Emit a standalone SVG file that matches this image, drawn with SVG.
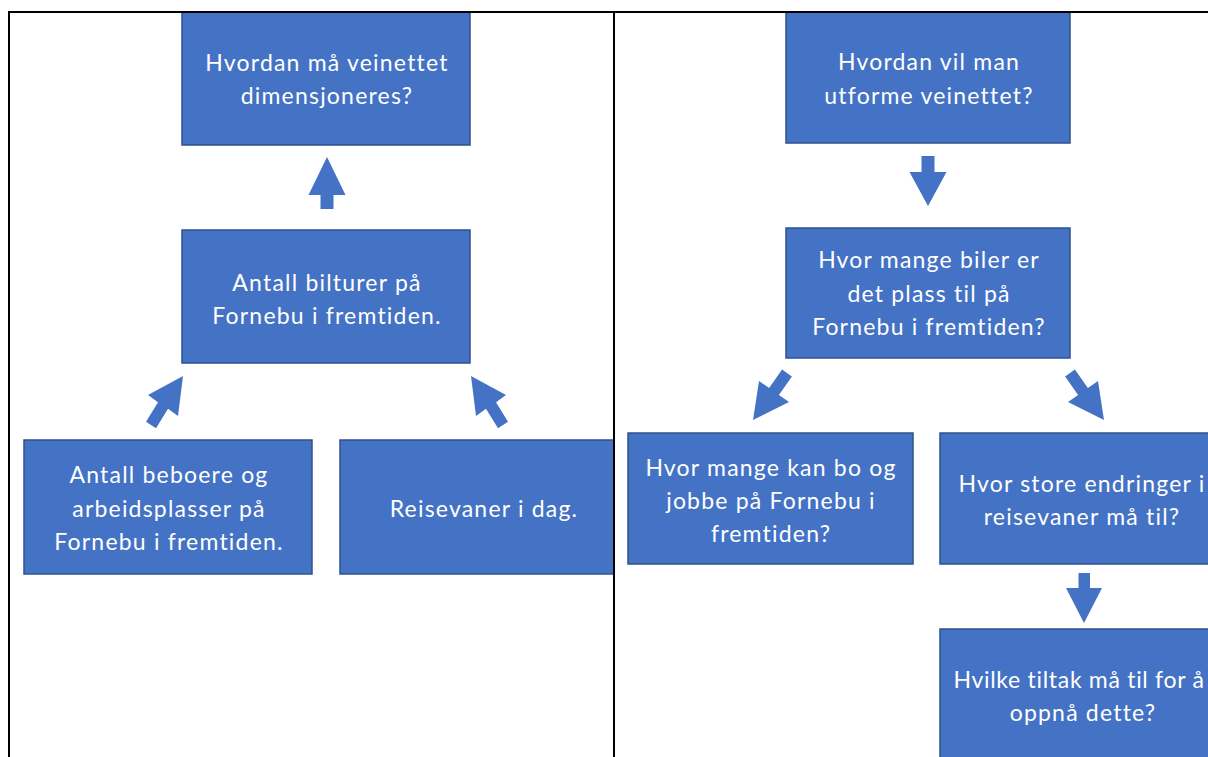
<svg xmlns="http://www.w3.org/2000/svg" width="1208" height="757" viewBox="0 0 1208 757">
<style>
.box{fill:#4472C4;stroke:#2F528F;stroke-width:1.5}
.arr{fill:#4472C4;stroke:none}
.t{font-family:Lato,"Liberation Sans",sans-serif;font-size:23px;fill:#ffffff;text-anchor:middle;letter-spacing:1.2px}
.grid{stroke:#000000;stroke-width:2;fill:none}
</style>
<defs>
<clipPath id="cl"><rect x="10" y="12" width="603" height="745"/></clipPath>
<clipPath id="cr"><rect x="615" y="12" width="593" height="745"/></clipPath>
</defs>
<rect width="1208" height="757" fill="#ffffff"/>
<g clip-path="url(#cl)">
<g id="n1"><rect class="box" x="182" y="10" width="288" height="135"/><text class="t" x="327" y="71">Hvordan må veinettet</text><text class="t" x="327" y="104">dimensjoneres?</text></g>
<g id="n2"><rect class="box" x="182" y="230" width="288" height="133"/><text class="t" x="327" y="291">Antall bilturer på</text><text class="t" x="327" y="324">Fornebu i fremtiden.</text></g>
<g id="n3"><rect class="box" x="24" y="440" width="288" height="134"/><text class="t" x="169" y="483">Antall beboere og</text><text class="t" x="169" y="516.5">arbeidsplasser på</text><text class="t" x="169" y="550">Fornebu i fremtiden.</text></g>
<g id="n4"><rect class="box" x="340" y="440" width="286" height="134"/><text class="t" x="484" y="517">Reisevaner i dag.</text></g>
</g>
<g clip-path="url(#cr)">
<g id="n5"><rect class="box" x="786" y="10" width="284" height="133"/><text class="t" x="929" y="70">Hvordan vil man</text><text class="t" x="929" y="103.5">utforme veinettet?</text></g>
<g id="n6"><rect class="box" x="786" y="228" width="284" height="130"/><text class="t" x="929" y="268">Hvor mange biler er</text><text class="t" x="929" y="301.5">det plass til på</text><text class="t" x="929" y="335">Fornebu i fremtiden?</text></g>
<g id="n7"><rect class="box" x="628" y="433" width="285" height="131"/><text class="t" x="771" y="476">Hvor mange kan bo og</text><text class="t" x="771" y="509">jobbe på Fornebu i</text><text class="t" x="771" y="541.5">fremtiden?</text></g>
<g id="n8"><rect class="box" x="940" y="433" width="286" height="131"/><text class="t" x="1082" y="491.5">Hvor store endringer i</text><text class="t" x="1082" y="525">reisevaner må til?</text></g>
<g id="n9"><rect class="box" x="940" y="629" width="286" height="140"/><text class="t" x="1079" y="688" style="letter-spacing:0.7px">Hvilke tiltak må til for å</text><text class="t" x="1083" y="721">oppnå dette?</text></g>
</g>
<g id="connectors">
<polygon class="arr" points="327,157 345.5,195 333.5,195 333.5,209 320.5,209 320.5,195 308.5,195"/>
<polygon class="arr" points="183,376 178,416 168,408.8 156,428.3 146,421.7 158,402.2 148,395"/>
<polygon class="arr" points="471,376 476,416 486,408.8 498,428.3 508,421.7 496,402.2 506,395"/>
<polygon class="arr" points="928,206 946.5,172 934.5,172 934.5,156 921.5,156 921.5,172 909.5,172"/>
<polygon class="arr" points="753,420 759,381 769.1,388 782.1,369.5 791.9,376.5 778.9,395 789,402"/>
<polygon class="arr" points="1104,420 1098,381 1087.9,388 1074.9,369.5 1065.1,376.5 1078.1,395 1068,402"/>
<polygon class="arr" points="1084,623 1102,588 1090,588 1090,573 1078.5,573 1078.5,588 1066,588"/>
</g>
<g id="grid">
<line class="grid" x1="8" y1="12" x2="1208" y2="12"/>
<line class="grid" x1="9" y1="11" x2="9" y2="757"/>
<line class="grid" x1="614" y1="11" x2="614" y2="757"/>
</g>
</svg>
